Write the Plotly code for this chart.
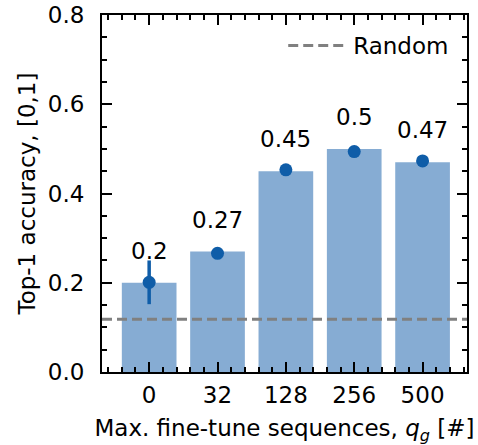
import plotly.graph_objects as go

categories = ["0", "32", "128", "256", "500"]
bar_values = [0.20, 0.27, 0.45, 0.50, 0.47]
point_values = [0.201, 0.266, 0.453, 0.494, 0.473]
point_errors = [0.049, 0.0, 0.0, 0.0, 0.0]
bar_labels = ["0.2", "0.27", "0.45", "0.5", "0.47"]
random_level = 0.118
y_ticks = [0.0, 0.2, 0.4, 0.6, 0.8]

xpos = list(range(len(categories)))
x_range = [-0.69, 4.65]

BAR_COLOR = "#86acd3"
DOT_COLOR = "#0f5da8"
FONT = "DejaVu Sans"
FS = 23

fig = go.Figure()
fig.add_trace(go.Bar(
    x=xpos, y=bar_values, width=0.8,
    marker=dict(color=BAR_COLOR, line=dict(width=0)),
    showlegend=False, hoverinfo="skip",
))
fig.add_trace(go.Scatter(
    x=xpos, y=point_values, mode="markers",
    marker=dict(color=DOT_COLOR, size=13),
    error_y=dict(type="data", array=point_errors, visible=True,
                 color=DOT_COLOR, thickness=3.5, width=0),
    showlegend=False,
))
fig.add_hline(y=random_level, line=dict(color="#808080", width=3, dash="10px,5px"),
              showlegend=True, name="Random", layer="above")

for xi, yv, lab in zip(xpos, bar_values, bar_labels):
    fig.add_annotation(x=xi, y=yv, text=lab, showarrow=False, yshift=32,
                       yanchor="middle", font=dict(family=FONT, size=FS, color="black"))

axis_common = dict(
    showline=True, linecolor="black", linewidth=2, mirror="allticks",
    ticks="inside", tickcolor="black", tickwidth=2, ticklen=10,
    showgrid=False, zeroline=False, automargin=False,
    tickfont=dict(family=FONT, size=FS, color="black"),
)

fig.update_xaxes(
    range=x_range, tickvals=xpos, ticktext=categories,
    ticklabelstandoff=1,
    minor=dict(ticks="inside", dtick=0.2, tick0=0, ticklen=5, tickwidth=1.5,
               tickcolor="black", showgrid=False),
    title=dict(text="Max. fine-tune sequences, <i>q</i><sub><i>g</i></sub> [#]",
               font=dict(family=FONT, size=FS, color="black"), standoff=13),
    **axis_common,
)
fig.update_yaxes(
    range=[0, 0.8], tickvals=y_ticks, tickformat=".1f",
    ticklabelstandoff=11,
    minor=dict(ticks="inside", dtick=0.05, tick0=0, ticklen=5, tickwidth=1.5,
               tickcolor="black", showgrid=False),
    title=dict(text="Top-1 accuracy, [0,1]",
               font=dict(family=FONT, size=FS, color="black"), standoff=6),
    **axis_common,
)

fig.update_layout(
    width=478, height=445,
    margin=dict(l=102, r=11, t=15, b=73),
    plot_bgcolor="white", paper_bgcolor="white",
    font=dict(family=FONT, size=FS, color="black"),
    legend=dict(x=0.965, y=0.975, xanchor="right", yanchor="top", itemwidth=60,
                bgcolor="rgba(0,0,0,0)", font=dict(family=FONT, size=FS, color="black")),
    showlegend=True,
)

fig.write_html("out.html")
